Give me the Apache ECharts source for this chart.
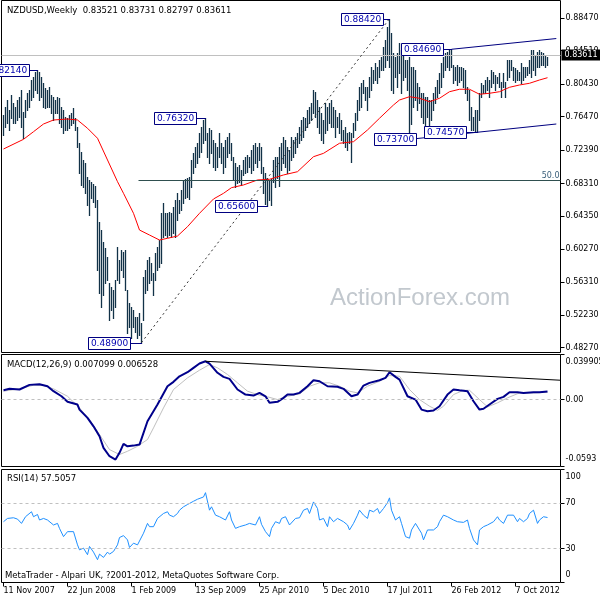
<!DOCTYPE html>
<html><head><meta charset="utf-8">
<script src="https://cdn.jsdelivr.net/npm/echarts@6/dist/echarts.min.js"></script>
<style>html,body{margin:0;padding:0;background:#fff}#c{width:600px;height:600px}</style>
</head><body><div id="c"></div>
<script>
// ---------- DATA ----------
const symbolTitle = 'NZDUSD,Weekly  0.83521 0.83731 0.82797 0.83611';
const xTickIdx = [0,32,64,96,128,160,192,224,256];
const xTickLabels = ['11 Nov 2007','22 Jun 2008','1 Feb 2009','13 Sep 2009','25 Apr 2010','5 Dec 2010','17 Jul 2011','26 Feb 2012','7 Oct 2012'];
const priceTickLabels = ['0.48270','0.52230','0.56310','0.60270','0.64350','0.68310','0.72390','0.76470','0.80430','0.84510','0.88470'];
const macdTickLabels = ['-0.0593','0.00','0.039905'];
const rsiTickLabels = ['0','30','70','100'];

const highs = [
0.7667,0.7768,0.7850,0.7728,0.7911,0.7809,0.7768,0.7850,0.7890,0.7972,
0.7707,0.7850,0.7931,0.7972,0.8094,0.8134,0.8195,0.8214,0.8195,0.8134,
0.8053,0.7992,0.7972,0.8012,0.7911,0.7890,0.7850,0.7890,0.7870,0.7768,
0.7728,0.7646,0.7626,0.7667,0.7687,0.7748,0.7626,0.7524,0.7321,0.7219,
0.7117,0.7077,0.6914,0.6873,0.6850,0.6830,0.6800,0.6630,0.6366,0.6264,
0.6121,0.6040,0.5938,0.5613,0.5572,0.5532,0.5654,0.6060,0.5898,0.6020,
0.5999,0.6020,0.5532,0.5369,0.5328,0.5288,0.5206,0.5206,0.5247,0.5125,
0.5694,0.5776,0.5898,0.5938,0.5857,0.5735,0.5979,0.6060,0.6142,0.6467,
0.6589,0.6467,0.6467,0.6488,0.6467,0.6549,0.6630,0.6711,0.6630,0.6752,
0.6874,0.6890,0.6894,0.6914,0.7117,0.7199,0.7280,0.7321,0.7443,0.7524,
0.7606,0.7632,0.7443,0.7504,0.7483,0.7361,0.7321,0.7280,0.7443,0.7321,
0.7280,0.7361,0.7402,0.7443,0.7321,0.7158,0.7077,0.7036,0.7056,0.6995,
0.7117,0.7158,0.7178,0.7158,0.7239,0.7300,0.7321,0.7280,0.7321,0.7280,
0.7036,0.6955,0.6900,0.6870,0.6890,0.7117,0.7158,0.7158,0.7280,0.7321,
0.7402,0.7361,0.7280,0.7239,0.7402,0.7361,0.7402,0.7443,0.7524,0.7606,
0.7646,0.7626,0.7728,0.7768,0.7809,0.7972,0.7951,0.7850,0.7768,0.7687,
0.7606,0.7809,0.7768,0.7809,0.7850,0.7768,0.7728,0.7646,0.7687,0.7606,
0.7483,0.7524,0.7443,0.7463,0.7443,0.7565,0.7687,0.7850,0.8012,0.8053,
0.8094,0.8012,0.8012,0.8134,0.8256,0.8216,0.8297,0.8256,0.8338,0.8378,
0.8500,0.8582,0.8745,0.8842,0.8663,0.8419,0.8378,0.8419,0.8541,0.8460,
0.8419,0.8338,0.8338,0.8378,0.8256,0.8256,0.8216,0.8053,0.8012,0.7931,
0.7931,0.7890,0.7890,0.7850,0.7850,0.7931,0.8012,0.8094,0.8175,0.8297,
0.8378,0.8419,0.8439,0.8460,0.8469,0.8277,0.8256,0.8277,0.8256,0.8256,
0.8236,0.8216,0.8012,0.7972,0.7768,0.7646,0.7728,0.7728,0.7931,0.8053,
0.8033,0.8094,0.8134,0.8094,0.8216,0.8195,0.8155,0.8134,0.8175,0.8073,
0.8175,0.8073,0.8338,0.8338,0.8338,0.8256,0.8236,0.8216,0.8195,0.8297,
0.8256,0.8256,0.8256,0.8338,0.8460,0.8460,0.8399,0.8439,0.8460,0.8439,
0.8419,0.8399,0.83731];
const lows = [
0.7422,0.7524,0.7565,0.7483,0.7626,0.7565,0.7565,0.7606,0.7646,0.7524,
0.7382,0.7646,0.7728,0.7768,0.7850,0.7890,0.7972,0.7931,0.7850,0.7890,
0.7768,0.7748,0.7768,0.7768,0.7687,0.7606,0.7687,0.7687,0.7565,0.7524,
0.7443,0.7483,0.7483,0.7504,0.7545,0.7565,0.7483,0.7280,0.6955,0.6812,
0.6792,0.6711,0.6569,0.6447,0.6650,0.6600,0.6540,0.5776,0.5491,0.5328,
0.5471,0.5613,0.5654,0.5165,0.5288,0.5186,0.5328,0.5654,0.5613,0.5776,
0.5694,0.5532,0.5003,0.5084,0.4942,0.5084,0.5023,0.4942,0.4982,0.4890,
0.5165,0.5491,0.5532,0.5613,0.5654,0.5471,0.5654,0.5776,0.5816,0.5857,
0.6182,0.6203,0.6182,0.6203,0.6182,0.6223,0.6182,0.6386,0.6467,0.6508,
0.6589,0.6650,0.6670,0.6640,0.6792,0.6955,0.7036,0.7077,0.7158,0.7219,
0.7321,0.7361,0.7158,0.7077,0.7199,0.7036,0.6995,0.7036,0.7158,0.7077,
0.6955,0.7036,0.7158,0.7199,0.7117,0.6873,0.6792,0.6833,0.6853,0.6812,
0.6934,0.6955,0.6975,0.7036,0.6955,0.6995,0.7077,0.7036,0.7117,0.6955,
0.6711,0.6580,0.6560,0.6630,0.6570,0.6853,0.6792,0.6894,0.6800,0.6995,
0.7077,0.7036,0.6955,0.6995,0.7117,0.7158,0.7199,0.7280,0.7321,0.7361,
0.7402,0.7483,0.7524,0.7565,0.7606,0.7687,0.7646,0.7524,0.7443,0.7361,
0.7321,0.7443,0.7483,0.7565,0.7524,0.7524,0.7402,0.7524,0.7443,0.7361,
0.7321,0.7280,0.7239,0.7321,0.7097,0.7402,0.7483,0.7606,0.7728,0.7768,
0.7931,0.7850,0.7728,0.7890,0.7972,0.8053,0.8094,0.8053,0.8134,0.8216,
0.8216,0.8256,0.8338,0.8256,0.7972,0.7931,0.8134,0.8012,0.8175,0.7931,
0.8094,0.8134,0.7972,0.7370,0.7560,0.7768,0.7850,0.7728,0.7809,0.7646,
0.7565,0.7443,0.7646,0.7483,0.7606,0.7728,0.7809,0.7890,0.7931,0.8012,
0.8134,0.8216,0.8256,0.8216,0.8256,0.8053,0.8094,0.8033,0.8073,0.8094,
0.8012,0.7931,0.7850,0.7606,0.7483,0.7480,0.7470,0.7457,0.7606,0.7890,
0.7931,0.7931,0.7972,0.7890,0.8012,0.8053,0.7972,0.8053,0.8012,0.7890,
0.8012,0.7890,0.8094,0.8134,0.8216,0.8094,0.8073,0.8094,0.8094,0.8053,
0.8094,0.8134,0.8155,0.8175,0.8134,0.8216,0.8155,0.8256,0.8256,0.8277,
0.8277,0.8256,0.82797];

const maIdx = [0,10,15,20,25,32,37,42,47,52,57,60,65,68,73,78,82,87,92,98,105,110,114,120,127,133,140,147,155,160,168,175,182,188,195,198,203,208,213,218,223,228,233,238,243,248,253,258,263,268,272];
const maVal = [0.7252,0.7370,0.7463,0.7557,0.7606,0.7618,0.7606,0.7505,0.7383,0.7118,0.6853,0.6711,0.6467,0.6263,0.6202,0.6141,0.6162,0.6190,0.6304,0.6467,0.6642,0.6711,0.6780,0.6813,0.6874,0.6882,0.6935,0.6975,0.7158,0.7199,0.7322,0.7341,0.7484,0.7627,0.7789,0.7850,0.7890,0.7871,0.7829,0.7871,0.7951,0.7981,0.7981,0.7920,0.7932,0.7951,0.8005,0.8033,0.8054,0.8094,0.8122];

const currentPrice = 0.83611;
const fibLevel = 0.6866;
const fibStartIdx = 67.5;
const trendDashed = [[69,0.4890],[193,0.8842]];
const channelUpper = [[224,0.8469],[276.4,0.8600]];
const channelLower = [[203,0.7370],[276.4,0.7557]];

const labelIdx = [17,101,132,69,193,224,203,237];
const labelVal = [0.8214,0.7632,0.6560,0.4890,0.8842,0.8469,0.7370,0.7457];
const labelText = ['0.82140','0.76320','0.65600','0.48900','0.88420','0.84690','0.73700','0.74570'];

const macdIdx = [0,3,8,13,18,22,25,29,32,37,38,42,45,48,50,53,56,58,60,62,65,68,72,77,82,85,88,92,95,98,101,103,107,110,113,117,121,125,128,131,133,137,140,142,145,148,152,155,158,162,167,170,174,177,180,183,188,191,193,196,198,202,206,209,212,215,218,222,225,228,232,235,238,240,243,247,250,253,257,260,265,268,272];
const macdVal = [0.0082,0.0095,0.0089,0.0130,0.0136,0.0118,0.0074,0.0029,-0.0020,-0.0044,-0.0089,-0.0162,-0.0237,-0.0325,-0.0428,-0.0502,-0.0532,-0.0472,-0.0392,-0.0414,-0.0408,-0.0399,-0.0192,-0.0044,0.0118,0.0157,0.0206,0.0242,0.0281,0.0319,0.0339,0.0319,0.0237,0.0201,0.0183,0.0089,0.0044,0.0035,0.0059,0.0029,-0.0029,-0.0020,0.0015,0.0044,0.0044,0.0059,0.0118,0.0171,0.0162,0.0118,0.0113,0.0095,0.0029,0.0044,0.0124,0.0148,0.0171,0.0192,0.0242,0.0201,0.0177,0.0029,0.0000,-0.0089,-0.0104,-0.0097,-0.0059,0.0044,0.0089,0.0082,0.0074,-0.0015,-0.0089,-0.0082,-0.0044,0.0006,0.0024,0.0065,0.0065,0.0059,0.0065,0.0065,0.0071];
const sigIdx = [0,8,15,20,25,32,38,43,48,53,58,62,67,72,75,80,85,92,98,103,107,112,117,122,127,132,137,142,148,153,158,163,168,173,177,182,188,193,198,203,208,213,217,220,225,230,233,238,242,247,252,258,265,272];
const sigVal = [0.0074,0.0095,0.0127,0.0124,0.0095,0.0029,-0.0074,-0.0177,-0.0310,-0.0443,-0.0487,-0.0458,-0.0414,-0.0354,-0.0251,-0.0074,0.0089,0.0192,0.0260,0.0310,0.0281,0.0222,0.0148,0.0074,0.0044,0.0024,0.0000,0.0029,0.0050,0.0118,0.0148,0.0148,0.0118,0.0074,0.0059,0.0118,0.0162,0.0213,0.0206,0.0089,0.0000,-0.0059,-0.0095,-0.0059,0.0044,0.0082,0.0082,0.0000,-0.0065,-0.0029,0.0015,0.0059,0.0059,0.0065];
const macdTrend = [[101,0.0339],[278.5,0.0171]];
const macdTitle = 'MACD(12,26,9) 0.007099 0.006528';

const rsiIdx = [0,2,3,5,7,8,9,11,12,14,15,17,18,20,22,23,25,27,28,30,32,33,35,37,38,40,42,43,45,47,48,50,52,53,55,57,58,60,62,63,65,67,68,70,72,73,75,77,78,80,82,83,85,87,88,90,92,93,95,97,98,100,101,103,104,106,108,109,111,113,114,116,118,119,121,123,124,126,128,129,131,133,134,136,138,139,141,143,144,146,148,150,152,153,155,157,158,160,162,163,165,167,168,170,172,173,174,175,177,178,180,182,183,185,187,188,190,192,193,194,196,198,199,201,203,204,206,208,209,210,212,213,215,217,218,220,222,223,225,227,228,230,232,233,235,237,238,240,242,243,245,247,248,250,252,253,255,257,258,260,262,263,265,267,268,270,272];
const rsiVal = [53.8,56.7,55.3,57.3,56.1,56.7,52.3,58.2,59.6,62.6,58.2,60.2,55.3,56.7,55.3,53.8,50.9,52.3,47.9,40.6,45.0,45.6,45.0,33.3,28.9,30.4,24.6,31.9,26.9,20.2,25.1,22.2,26.9,25.1,27.5,33.3,39.8,41.5,37.7,31.0,34.8,33.3,31.9,43.6,52.3,49.4,49.4,56.7,55.3,61.1,62.6,59.6,58.2,61.1,64.0,67.0,69.0,69.9,71.9,73.7,74.3,75.7,79.5,64.0,67.0,59.6,58.2,59.6,55.3,62.6,55.3,47.9,49.4,49.4,50.9,52.3,53.8,50.9,58.2,51.5,45.0,40.6,47.9,53.8,52.3,56.7,58.2,50.9,51.5,56.7,57.3,64.0,65.5,61.1,71.3,65.5,55.3,56.7,49.4,58.2,53.8,56.7,55.3,53.8,50.9,46.5,45.0,52.3,59.6,64.0,59.6,56.7,64.0,62.6,65.5,61.1,65.5,70.7,74.9,64.0,55.3,58.2,52.3,40.6,39.2,46.5,52.3,46.5,43.6,37.7,46.5,45.0,46.5,49.4,53.8,59.6,58.2,56.7,55.3,53.8,55.3,53.2,55.3,47.9,37.7,33.3,46.5,49.4,50.9,50.3,53.8,58.2,55.3,52.3,59.6,61.1,59.6,53.8,56.7,53.8,56.7,61.1,64.0,52.3,55.3,58.2,57.5];
const rsiLevels = [30,70];
const rsiTitle = 'RSI(14) 57.5057';
const copyright = 'MetaTrader - Alpari UK, ?2001-2012, MetaQuotes Software Corp.';
const watermark = 'ActionForex.com';

// ---------- STYLE ----------
const FF = '"DejaVu Sans", sans-serif';
const barColor = '#123248';
const labelGap = [9,10,11,12,7,9,-6,12];
const priceTickVals = priceTickLabels.map(Number);
const macdTickVals = macdTickLabels.map(Number);
const rsiTickVals = rsiTickLabels.map(Number);

function nearestIdx(arr, v){let b=0,d=Infinity;arr.forEach((a,i)=>{const e=Math.abs(a-v);if(e<d){d=e;b=i;}});return b;}
function edgeFormatter(vals, labels){
  return function(v){
    const i = nearestIdx(vals, v);
    if (i === vals.length-1) return '{t|' + labels[i] + '}';
    if (i === 0) return '{b|' + labels[i] + '}';
    return labels[i];
  };
}
const richEdge = {
  t:{padding:[15,0,0,0], fontSize:8, fontFamily:FF, color:'#000'},
  b:{padding:[0,0,15,0], fontSize:8, fontFamily:FF, color:'#000'}
};

const gridBase = {left:1.5, width:559, show:true, borderColor:'#000', borderWidth:1, backgroundColor:'transparent', containLabel:false, outerBoundsMode:'none'};

const chart = echarts.init(document.getElementById('c'), null, {renderer:'canvas'});
const option = {
  animation:false,
  backgroundColor:'#fff',
  grid:[
    Object.assign({top:0.5, height:352}, gridBase),
    Object.assign({top:354.5, height:112}, gridBase),
    Object.assign({top:469.5, height:113}, gridBase)
  ],
  xAxis:[0,1,2].map(g=>({
    type:'value', gridIndex:g, min:-1, max:278.5, show:g===2, position:'bottom',
    axisLine:{show:false, onZero:false}, splitLine:{show:false},
    axisTick:{show:g===2, customValues:xTickIdx, length:4, lineStyle:{color:'#000'}},
    axisLabel:{show:g===2, customValues:xTickIdx, align:'left', margin:4, fontSize:8, fontFamily:FF, color:'#000',
      formatter:v=>xTickLabels[nearestIdx(xTickIdx,v)]}
  })),
  yAxis:[
    {type:'value', gridIndex:0, position:'right', min:0.47684, max:0.90642,
     axisLine:{show:false, onZero:false}, splitLine:{show:false},
     axisTick:{show:true, customValues:priceTickVals, length:4, lineStyle:{color:'#000'}},
     axisLabel:{customValues:priceTickVals, margin:5, fontSize:8, fontFamily:FF, color:'#000',
       formatter:v=>priceTickLabels[nearestIdx(priceTickVals,v)]}},
    {type:'value', gridIndex:1, position:'right', min:-0.0593, max:0.039905,
     axisLine:{show:false, onZero:false}, splitLine:{show:false},
     axisTick:{show:true, customValues:macdTickVals, length:4, lineStyle:{color:'#000'}},
     axisLabel:{customValues:macdTickVals, margin:5, fontSize:8, fontFamily:FF, color:'#000',
       formatter:edgeFormatter(macdTickVals, macdTickLabels), rich:richEdge}},
    {type:'value', gridIndex:2, position:'right', min:0, max:100,
     axisLine:{show:false, onZero:false}, splitLine:{show:false},
     axisTick:{show:true, customValues:rsiTickVals, length:4, lineStyle:{color:'#000'}},
     axisLabel:{customValues:rsiTickVals, margin:5, fontSize:8, fontFamily:FF, color:'#000',
       formatter:edgeFormatter(rsiTickVals, rsiTickLabels), rich:richEdge}}
  ],
  graphic:[
    {type:'text', x:330, y:298, z:1, style:{text:watermark, font:'24px "Liberation Sans", Arial, sans-serif', fill:'#c2c8ce', verticalAlign:'middle'}},
    {type:'text', x:7, y:11, z:5, style:{text:symbolTitle, font:'8.5px '+FF, fill:'#000', verticalAlign:'middle'}},
    {type:'text', x:7, y:365, z:5, style:{text:macdTitle, font:'8.5px '+FF, fill:'#000', verticalAlign:'middle'}},
    {type:'text', x:7, y:479, z:5, style:{text:rsiTitle, font:'8.5px '+FF, fill:'#000', verticalAlign:'middle'}},
    {type:'text', x:5, y:575.5, z:5, style:{text:copyright, font:'8.5px '+FF, fill:'#000', verticalAlign:'middle'}}
  ],
  series:[
    {
      type:'custom', name:'bars', xAxisIndex:0, yAxisIndex:0, z:3, silent:true,
      data: highs.map((h,i)=>[i,h,lows[i]]),
      renderItem:(params, api)=>{
        const top = api.coord([api.value(0), api.value(1)]);
        const bot = api.coord([api.value(0), api.value(2)]);
        const x = Math.floor(top[0]) + 0.5;
        return {type:'line', shape:{x1:x, y1:Math.round(top[1]), x2:x, y2:Math.round(bot[1])+1},
                style:{stroke:barColor, lineWidth:1.3}};
      }
    },
    {
      type:'line', name:'MA', xAxisIndex:0, yAxisIndex:0, z:4, silent:true,
      data: maIdx.map((x,i)=>[x, maVal[i]]),
      symbol:'none', lineStyle:{color:'#ff0000', width:1},
      markLine:{
        symbol:['none','none'], silent:true, animation:false, label:{show:false},
        data:[
          {yAxis:currentPrice, lineStyle:{color:'#c0c0c0', type:'solid', width:1},
           label:{show:true, position:'end', formatter:currentPrice.toFixed(5), color:'#fff', backgroundColor:'#000',
                  padding:[2,3,1,3], fontSize:8, fontFamily:FF, distance:1}},
          [{coord:[fibStartIdx, fibLevel], lineStyle:{color:'#2f4f4f', type:'solid', width:1},
            label:{show:true, position:'insideEndTop', formatter:'50.0', color:'#3a5f7a', fontSize:8, fontFamily:FF, distance:1}},
           {coord:[278.5, fibLevel]}],
          [{coord:trendDashed[0], lineStyle:{color:'#333', type:[2,3], width:1}}, {coord:trendDashed[1]}],
          [{coord:channelUpper[0], lineStyle:{color:'#000080', type:'solid', width:1}}, {coord:channelUpper[1]}],
          [{coord:channelLower[0], lineStyle:{color:'#000080', type:'solid', width:1}}, {coord:channelLower[1]}]
        ]
      }
    },
    {
      type:'custom', name:'labels', xAxisIndex:0, yAxisIndex:0, z:10, silent:true,
      data: labelIdx.map((x,i)=>[x, labelVal[i]]),
      renderItem:(params, api)=>{
        const p = api.coord([api.value(0), api.value(1)]);
        const gap = labelGap[params.dataIndex];
        const w = 42, h = 12;
        const bx = Math.round(p[0] - gap - w) + 0.5;
        const yy = Math.round(p[1]) + 0.5;
        const by = Math.round(p[1] - h/2) + 0.5;
        const children = [];
        if (gap > 0) children.push({type:'line', shape:{x1:bx+w, y1:yy, x2:Math.floor(p[0])+1, y2:yy}, style:{stroke:'#000080', lineWidth:1}});
        children.push({type:'rect', shape:{x:bx, y:by, width:w, height:h}, style:{fill:'#fff', stroke:'#000080', lineWidth:1}});
        children.push({type:'text', style:{text:labelText[params.dataIndex], x:bx+w/2, y:by+h/2+0.5, align:'center', verticalAlign:'middle', fill:'#0000b0', font:'9px '+FF}});
        return {type:'group', children};
      }
    },
    {
      type:'line', name:'signal', xAxisIndex:1, yAxisIndex:1, z:3, silent:true,
      data: sigIdx.map((x,i)=>[x, sigVal[i]]),
      symbol:'none', lineStyle:{color:'#c0c0c0', width:1}
    },
    {
      type:'line', name:'macd', xAxisIndex:1, yAxisIndex:1, z:4, silent:true,
      data: macdIdx.map((x,i)=>[x, macdVal[i]]),
      symbol:'none', lineStyle:{color:'#00008b', width:2},
      markLine:{
        symbol:['none','none'], silent:true, animation:false, label:{show:false},
        data:[
          {yAxis:0, lineStyle:{color:'#c0c0c0', type:[3,3], width:1}},
          [{coord:macdTrend[0], lineStyle:{color:'#000', type:'solid', width:1}}, {coord:macdTrend[1]}]
        ]
      }
    },
    {
      type:'line', name:'rsi', xAxisIndex:2, yAxisIndex:2, z:4, silent:true,
      data: rsiIdx.map((x,i)=>[x, rsiVal[i]]),
      symbol:'none', lineStyle:{color:'#1e90ff', width:1},
      markLine:{
        symbol:['none','none'], silent:true, animation:false, label:{show:false},
        data: rsiLevels.map(v=>({yAxis:v, lineStyle:{color:'#c0c0c0', type:[3,3], width:1}}))
      }
    }
  ]
};
chart.setOption(option);
</script></body></html>
